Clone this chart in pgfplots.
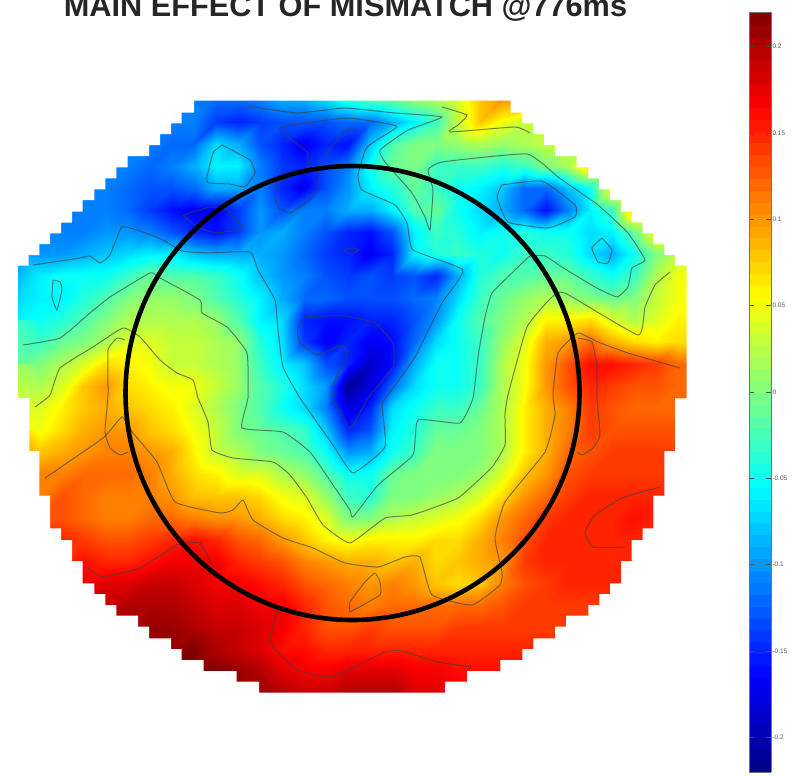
\documentclass[border=0pt]{standalone}
\usepackage{fontspec}
\setmainfont{Liberation Sans}
\usepackage{pgfplots}
\pgfplotsset{compat=1.18}
\begin{document}
\begin{tikzpicture}
\useasboundingbox (0,0) rectangle (795pt,776pt);
\begin{axis}[
  at={(0,0)},anchor=south west,
  scale only axis,width=795pt,height=776pt,
  xmin=0,xmax=795,ymin=0,ymax=776,y dir=reverse,
  hide axis,clip=false,
  colormap/jet,
  point meta min=-0.22,point meta max=0.22,
  colorbar sampled,
  colorbar style={
    samples=65,
    at={(0.9421,0.9845)},anchor=north west,
    width=22pt,height=760pt,
    ytick={-0.2,-0.15,-0.1,-0.05,0,0.05,0.1,0.15,0.2},
    yticklabels={-0.2,-0.15,-0.1,-0.05,0,0.05,0.1,0.15,0.2},
    ticklabel pos=right,
    tick align=inside,
    major tick length=5pt,
    tick style={black!70,line width=0.6pt},
    axis line style={black!55,line width=0.5pt},
    yticklabel style={font=\fontsize{6.5}{7}\selectfont,text=black!65,xshift=-2pt},
  },
]
\addplot[surf,shader=interp,mesh/cols=32,mesh/ordering=x varies,point meta=explicit]
 table[row sep=\\,x expr={18+22*mod(\coordindex,32)},y expr={100+22*floor(\coordindex/32)},meta expr={\thisrow{v}/100}]{
v\\
-11\\-11\\-11\\-11\\-11\\-11\\-11\\-11\\-11\\-12\\-12\\-11\\-9\\-9\\-7\\-4\\-2\\-1\\1\\2\\4\\8\\10\\10\\10\\10\\10\\10\\10\\10\\10\\10\\
-11\\-11\\-11\\-11\\-11\\-11\\-11\\-11\\-11\\-14\\-15\\-14\\-13\\-13\\-13\\-12\\-12\\-9\\-6\\-3\\3\\8\\5\\3\\3\\3\\3\\3\\3\\3\\3\\3\\
-11\\-11\\-11\\-11\\-11\\-11\\-11\\-12\\-12\\-7\\-9\\-13\\-15\\-17\\-15\\-16\\-8\\-2\\0\\0\\1\\2\\1\\2\\3\\3\\3\\3\\3\\3\\3\\3\\
-11\\-11\\-11\\-11\\-11\\-11\\-12\\-11\\-9\\-6\\-6\\-11\\-14\\-15\\-13\\-11\\-5\\-1\\0\\-3\\-3\\-3\\-4\\-3\\0\\2\\8\\8\\8\\8\\8\\8\\
-11\\-11\\-11\\-11\\-11\\-12\\-13\\-13\\-12\\-9\\-9\\-11\\-15\\-17\\-13\\-10\\-6\\-4\\-1\\-3\\-5\\-6\\-8\\-12\\-12\\-8\\-5\\6\\10\\10\\10\\10\\
-11\\-11\\-11\\-11\\-11\\-12\\-14\\-16\\-17\\-17\\-14\\-10\\-13\\-11\\-11\\-9\\-9\\-6\\-2\\-1\\-5\\-7\\-9\\-12\\-16\\-11\\-6\\-3\\9\\9\\9\\9\\
-11\\-11\\-11\\-11\\-10\\-10\\-11\\-13\\-15\\-16\\-14\\-10\\-9\\-11\\-13\\-15\\-16\\-13\\-6\\-3\\-4\\-6\\-5\\-4\\-5\\-5\\-7\\-6\\-1\\6\\6\\6\\
-10\\-10\\-10\\-9\\-8\\-7\\-6\\-6\\-8\\-9\\-9\\-9\\-10\\-12\\-14\\-15\\-17\\-15\\-6\\-4\\-3\\-4\\-5\\-3\\-3\\-4\\-7\\-9\\-5\\0\\3\\3\\
-10\\-6\\-5\\-5\\-5\\-3\\-1\\-2\\-2\\-3\\-5\\-8\\-10\\-11\\-13\\-14\\-13\\-14\\-13\\-15\\-9\\-4\\-2\\-2\\-1\\-1\\-3\\-5\\-3\\2\\5\\5\\
-7\\-6\\-6\\-4\\-2\\0\\1\\1\\0\\-2\\-4\\-6\\-9\\-12\\-12\\-13\\-13\\-13\\-12\\-11\\-7\\-3\\-1\\1\\2\\1\\0\\-1\\0\\3\\5\\5\\
-6\\-5\\-4\\-2\\0\\2\\2\\2\\2\\1\\-2\\-6\\-7\\-15\\-16\\-16\\-15\\-15\\-13\\-10\\-5\\-2\\0\\2\\6\\6\\7\\4\\2\\4\\6\\6\\
-3\\-3\\-1\\0\\2\\4\\4\\3\\3\\2\\1\\-4\\-7\\-14\\-17\\-15\\-17\\-16\\-12\\-7\\-5\\-3\\1\\4\\9\\10\\12\\9\\7\\6\\7\\7\\
-1\\0\\2\\4\\7\\6\\5\\3\\3\\2\\1\\-3\\-6\\-8\\-13\\-15\\-19\\-16\\-9\\-5\\-5\\-3\\2\\5\\10\\13\\16\\16\\15\\14\\12\\12\\
1\\2\\4\\8\\10\\7\\6\\5\\5\\3\\1\\-2\\-4\\-7\\-10\\-21\\-18\\-12\\-7\\-5\\-5\\-3\\2\\5\\10\\13\\15\\14\\13\\13\\12\\12\\
4\\4\\6\\8\\9\\8\\7\\6\\4\\2\\0\\-2\\-5\\-7\\-11\\-18\\-15\\-7\\-5\\-3\\-3\\-1\\2\\6\\9\\11\\14\\13\\12\\12\\12\\12\\
5\\5\\7\\9\\10\\10\\8\\7\\5\\3\\0\\-1\\-2\\-3\\-8\\-15\\-13\\-6\\-4\\-1\\-1\\0\\2\\6\\9\\11\\14\\13\\13\\13\\13\\13\\
8\\8\\9\\10\\11\\11\\10\\9\\6\\3\\2\\0\\-1\\-2\\-5\\-10\\-9\\-5\\-3\\0\\0\\0\\2\\6\\9\\12\\13\\14\\14\\14\\14\\14\\
11\\11\\11\\12\\12\\12\\11\\9\\7\\6\\4\\4\\2\\1\\-2\\-5\\-5\\-1\\0\\0\\0\\1\\4\\8\\10\\13\\14\\14\\14\\14\\14\\14\\
11\\11\\13\\12\\11\\11\\11\\10\\8\\8\\8\\7\\5\\4\\1\\-3\\-4\\0\\0\\1\\2\\4\\7\\10\\12\\14\\15\\15\\15\\15\\15\\15\\
13\\13\\13\\12\\11\\11\\12\\12\\11\\10\\10\\9\\7\\6\\4\\0\\0\\2\\3\\4\\5\\7\\10\\12\\14\\15\\15\\15\\16\\15\\15\\15\\
15\\15\\15\\14\\13\\13\\14\\15\\16\\15\\13\\12\\10\\8\\6\\5\\6\\6\\6\\7\\7\\9\\11\\13\\15\\15\\15\\15\\15\\15\\15\\15\\
15\\15\\15\\16\\15\\15\\16\\17\\17\\17\\15\\14\\13\\11\\10\\9\\9\\8\\9\\7\\8\\9\\10\\14\\15\\15\\15\\15\\15\\15\\15\\15\\
17\\17\\17\\17\\18\\18\\19\\19\\18\\17\\17\\16\\15\\13\\12\\11\\10\\11\\10\\8\\7\\8\\11\\13\\14\\15\\15\\15\\15\\15\\15\\15\\
19\\19\\19\\19\\19\\20\\20\\20\\19\\18\\18\\17\\17\\15\\13\\12\\11\\12\\12\\12\\12\\12\\13\\14\\14\\14\\14\\14\\14\\14\\14\\14\\
20\\20\\20\\20\\20\\20\\21\\21\\20\\19\\19\\18\\17\\15\\13\\13\\14\\13\\13\\13\\14\\14\\14\\14\\14\\14\\14\\14\\14\\14\\14\\14\\
21\\21\\21\\21\\21\\21\\21\\21\\22\\20\\19\\18\\16\\16\\15\\15\\15\\15\\15\\15\\15\\15\\15\\15\\15\\15\\15\\15\\15\\15\\15\\15\\
22\\22\\22\\22\\22\\22\\22\\22\\22\\22\\21\\20\\18\\17\\17\\18\\18\\18\\17\\17\\16\\16\\16\\16\\16\\16\\16\\16\\16\\16\\16\\16\\
21\\21\\21\\21\\21\\21\\21\\21\\21\\21\\21\\21\\20\\19\\19\\20\\20\\20\\18\\18\\17\\17\\17\\17\\17\\17\\17\\17\\17\\17\\17\\17\\
};
% white surround: the stepped outline of the head map
\fill[white,even odd rule] (8,90) rectangle (708,702)
 (194,100.7)--(194,112.7)--(181.7,112.7)--(181.7,123.3)--(171,123.3)--(171,134)--(160,134)--(160,145)--(149,145)--(149,156)--(127.7,156)--(127.7,167.3)--(116.3,167.3)--(116.3,178.3)--(105.3,178.3)--(105.3,189.3)--(94.3,189.3)--(94.3,200)--(82.7,200)--(82.7,211.7)--(72,211.7)--(72,222.7)--(61,222.7)--(61,233.3)--(50,233.3)--(50,244)--(39.3,244)--(39.3,255)--(28.7,255)--(28.7,265.7)--(17.7,265.7)--(17.7,398)--(29.3,398)--(29.3,451)--(39.3,451)--(39.3,495.7)--(50,495.7)--(50,528.3)--(61,528.3)--(61,540)--(72,540)--(72,561)--(82.7,561)--(82.7,583.3)--(94.3,583.3)--(94.3,594)--(105.3,594)--(105.3,605)--(116.3,605)--(116.3,615.7)--(138,615.7)--(138,626.7)--(149,626.7)--(149,638.3)--(171,638.3)--(171,649)--(181.7,649)--(181.7,660)--(203.7,660)--(203.7,671)--(236.7,671)--(236.7,681.7)--(259,681.7)--(259,692.7)--(445,692.7)--(445,681.7)--(467,681.7)--(467,671)--(500.3,671)--(500.3,660)--(522.3,660)--(522.3,649)--(533.3,649)--(533.3,638.3)--(555,638.3)--(555,626.7)--(566,626.7)--(566,615.7)--(588.3,615.7)--(588.3,605)--(599.3,605)--(599.3,594)--(610,594)--(610,583.3)--(621,583.3)--(621,561)--(631.7,561)--(631.7,540)--(642.7,540)--(642.7,528.3)--(653.3,528.3)--(653.3,495.7)--(664.3,495.7)--(664.3,451)--(675,451)--(675,398.3)--(686.7,398.3)--(686.7,265.7)--(675,265.7)--(675,255)--(664.3,255)--(664.3,244)--(653.3,244)--(653.3,233.3)--(642.7,233.3)--(642.7,222.3)--(631.7,222.3)--(631.7,211.7)--(621,211.7)--(621,200)--(610,200)--(610,189.3)--(599,189.3)--(599,178.3)--(588.3,178.3)--(588.3,167.3)--(576.7,167.3)--(576.7,156)--(555,156)--(555,145)--(544,145)--(544,134)--(533.3,134)--(533.3,123.3)--(522.3,123.3)--(522.3,112.7)--(510.7,112.7)--(510.7,100.7)--cycle;
\addplot[black!75,opacity=.65,line width=1pt,smooth,tension=.25] coordinates {(33,265)(80,258)(90,256)(100,263)(110,255)(122,227)(143,232)(163,240)(182,251)(207,253)(250,252)(258,270)(275,300)(278,330)(283,367)(300,398)(333,445)(353,473)(385,447)(382,405)(388,395)(415,357)(442,303)(463,270)(413,250)(407,223)(395,205)(362,190)(358,175)(367,147)(397,127)(378,122)(345,118)(280,128)(307,152)(308,168)};
\addplot[black!75,opacity=.65,line width=1pt,smooth,tension=.25] coordinates {(23,345)(60,338)(90,313)(110,297)(150,273)(160,278)(200,300)(202,313)(227,327)(247,353)(248,398)(242,428)(283,432)(310,452)(333,485)(350,510)(353,517)(378,485)(413,455)(418,420)(460,423)(473,398)(478,357)(485,317)(492,293)(512,273)(530,256)(545,256)(562,267)(595,287)(617,297)(628,287)(632,268)(645,260)(628,233)(598,205)(558,177)(527,154)(442,162)(428,170)(433,190)(430,230)(425,217)(412,193)(385,162)(380,150)(408,130)(442,117)(395,113)(345,108)(297,113)(248,106)};
\addplot[black!75,opacity=.65,line width=1pt,smooth,tension=.25] coordinates {(35,407)(50,395)(60,368)(93,347)(123,328)(140,337)(160,360)(177,373)(193,380)(198,398)(208,422)(212,450)(233,458)(273,462)(290,475)(307,498)(323,525)(350,543)(385,518)(412,515)(458,498)(492,467)(505,445)(505,415)(508,395)(527,327)(552,297)(565,293)(638,335)(645,307)(655,285)(670,272)};
\addplot[black!75,opacity=.65,line width=1pt,smooth,tension=.25] coordinates {(45,478)(103,438)(122,417)(133,433)(157,462)(175,502)(220,513)(233,510)(243,500)(253,520)(283,538)(313,548)(345,563)(378,567)(405,557)(420,557)(432,595)(472,605)(500,585)(502,572)(495,538)(505,502)(545,452)(555,415)(553,395)(558,353)(578,333)(598,342)(628,353)(680,368)};
\addplot[black!75,opacity=.65,line width=1pt,smooth,tension=.25] coordinates {(125,340)(117,338)(108,350)(108,395)(105,432)(110,448)(120,455)(128,452)};
\addplot[black!75,opacity=.65,line width=1pt,smooth,tension=.25] coordinates {(578,338)(592,342)(597,367)(597,398)(600,435)(593,448)(582,455)(577,452)};
\addplot[black!75,opacity=.65,line width=1pt,smooth,tension=.25] coordinates {(660,487)(622,498)(595,515)(585,532)(593,547)(625,547)};
\addplot[black!75,opacity=.65,line width=1pt,smooth,tension=.25] coordinates {(88,568)(103,577)(140,568)(177,545)(200,543)(213,567)};
\addplot[black!75,opacity=.65,line width=1pt,smooth,tension=.25] coordinates {(277,612)(270,642)(297,670)(327,677)(345,672)(385,652)(402,651)(438,662)(472,667)};
\addplot[black!75,opacity=.65,line width=1pt,smooth,tension=.25] coordinates {(350,612)(350,602)(365,582)(375,573)(380,582)(380,595)(350,612)};
\addplot[black!75,opacity=.65,line width=1pt,smooth,tension=.25] coordinates {(53,280)(60,282)(62,290)(57,310)(52,297)(53,280)};
\addplot[black!75,opacity=.65,line width=1pt,smooth,tension=.25] coordinates {(222,145)(250,160)(255,173)(245,187)(230,184)(208,183)(207,177)(213,153)(222,145)};
\addplot[black!75,opacity=.65,line width=1pt,smooth,tension=.25] coordinates {(183,215)(210,207)(227,210)(242,228)(217,233)(197,227)(183,215)};
\addplot[black!75,opacity=.65,line width=1pt,smooth,tension=.25] coordinates {(297,330)(307,317)(345,316)(375,323)(393,343)(393,367)(368,398)(350,428)(333,398)(335,380)(347,357)(345,347)(337,347)(317,355)(300,343)(297,330)};
\addplot[black!75,opacity=.65,line width=1pt,smooth,tension=.25] coordinates {(502,185)(542,181)(575,205)(575,217)(548,228)(508,222)(497,197)(502,185)};
\addplot[black!75,opacity=.65,line width=1pt,smooth,tension=.25] coordinates {(602,238)(612,250)(608,263)(598,262)(592,248)(602,238)};
\addplot[black!75,opacity=.65,line width=1pt,smooth,tension=.25] coordinates {(442,107)(467,115)(458,125)(450,132)(515,127)(530,133)};
\addplot[black!75,opacity=.65,line width=1pt,smooth,tension=.25] coordinates {(308,168)(320,173)(313,197)(290,213)(278,207)(275,190)(282,180)(308,168)};
\addplot[black!75,opacity=.65,line width=1pt,smooth,tension=.25] coordinates {(358,130)(345,131)(327,153)(325,165)};
\addplot[black!75,opacity=.65,line width=1pt,smooth,tension=.25] coordinates {(343,250)(351,248)(359,250)(351,254)(343,250)};
\draw[black,line width=4.6pt] (352.5,393) circle [radius=227pt];
\node[anchor=base,inner sep=0pt,font=\fontsize{30.7}{32}\bfseries,text=black!85] at (345.5,17) {MAIN EFFECT OF MISMATCH @776ms};
\end{axis}
\end{tikzpicture}
\end{document}
